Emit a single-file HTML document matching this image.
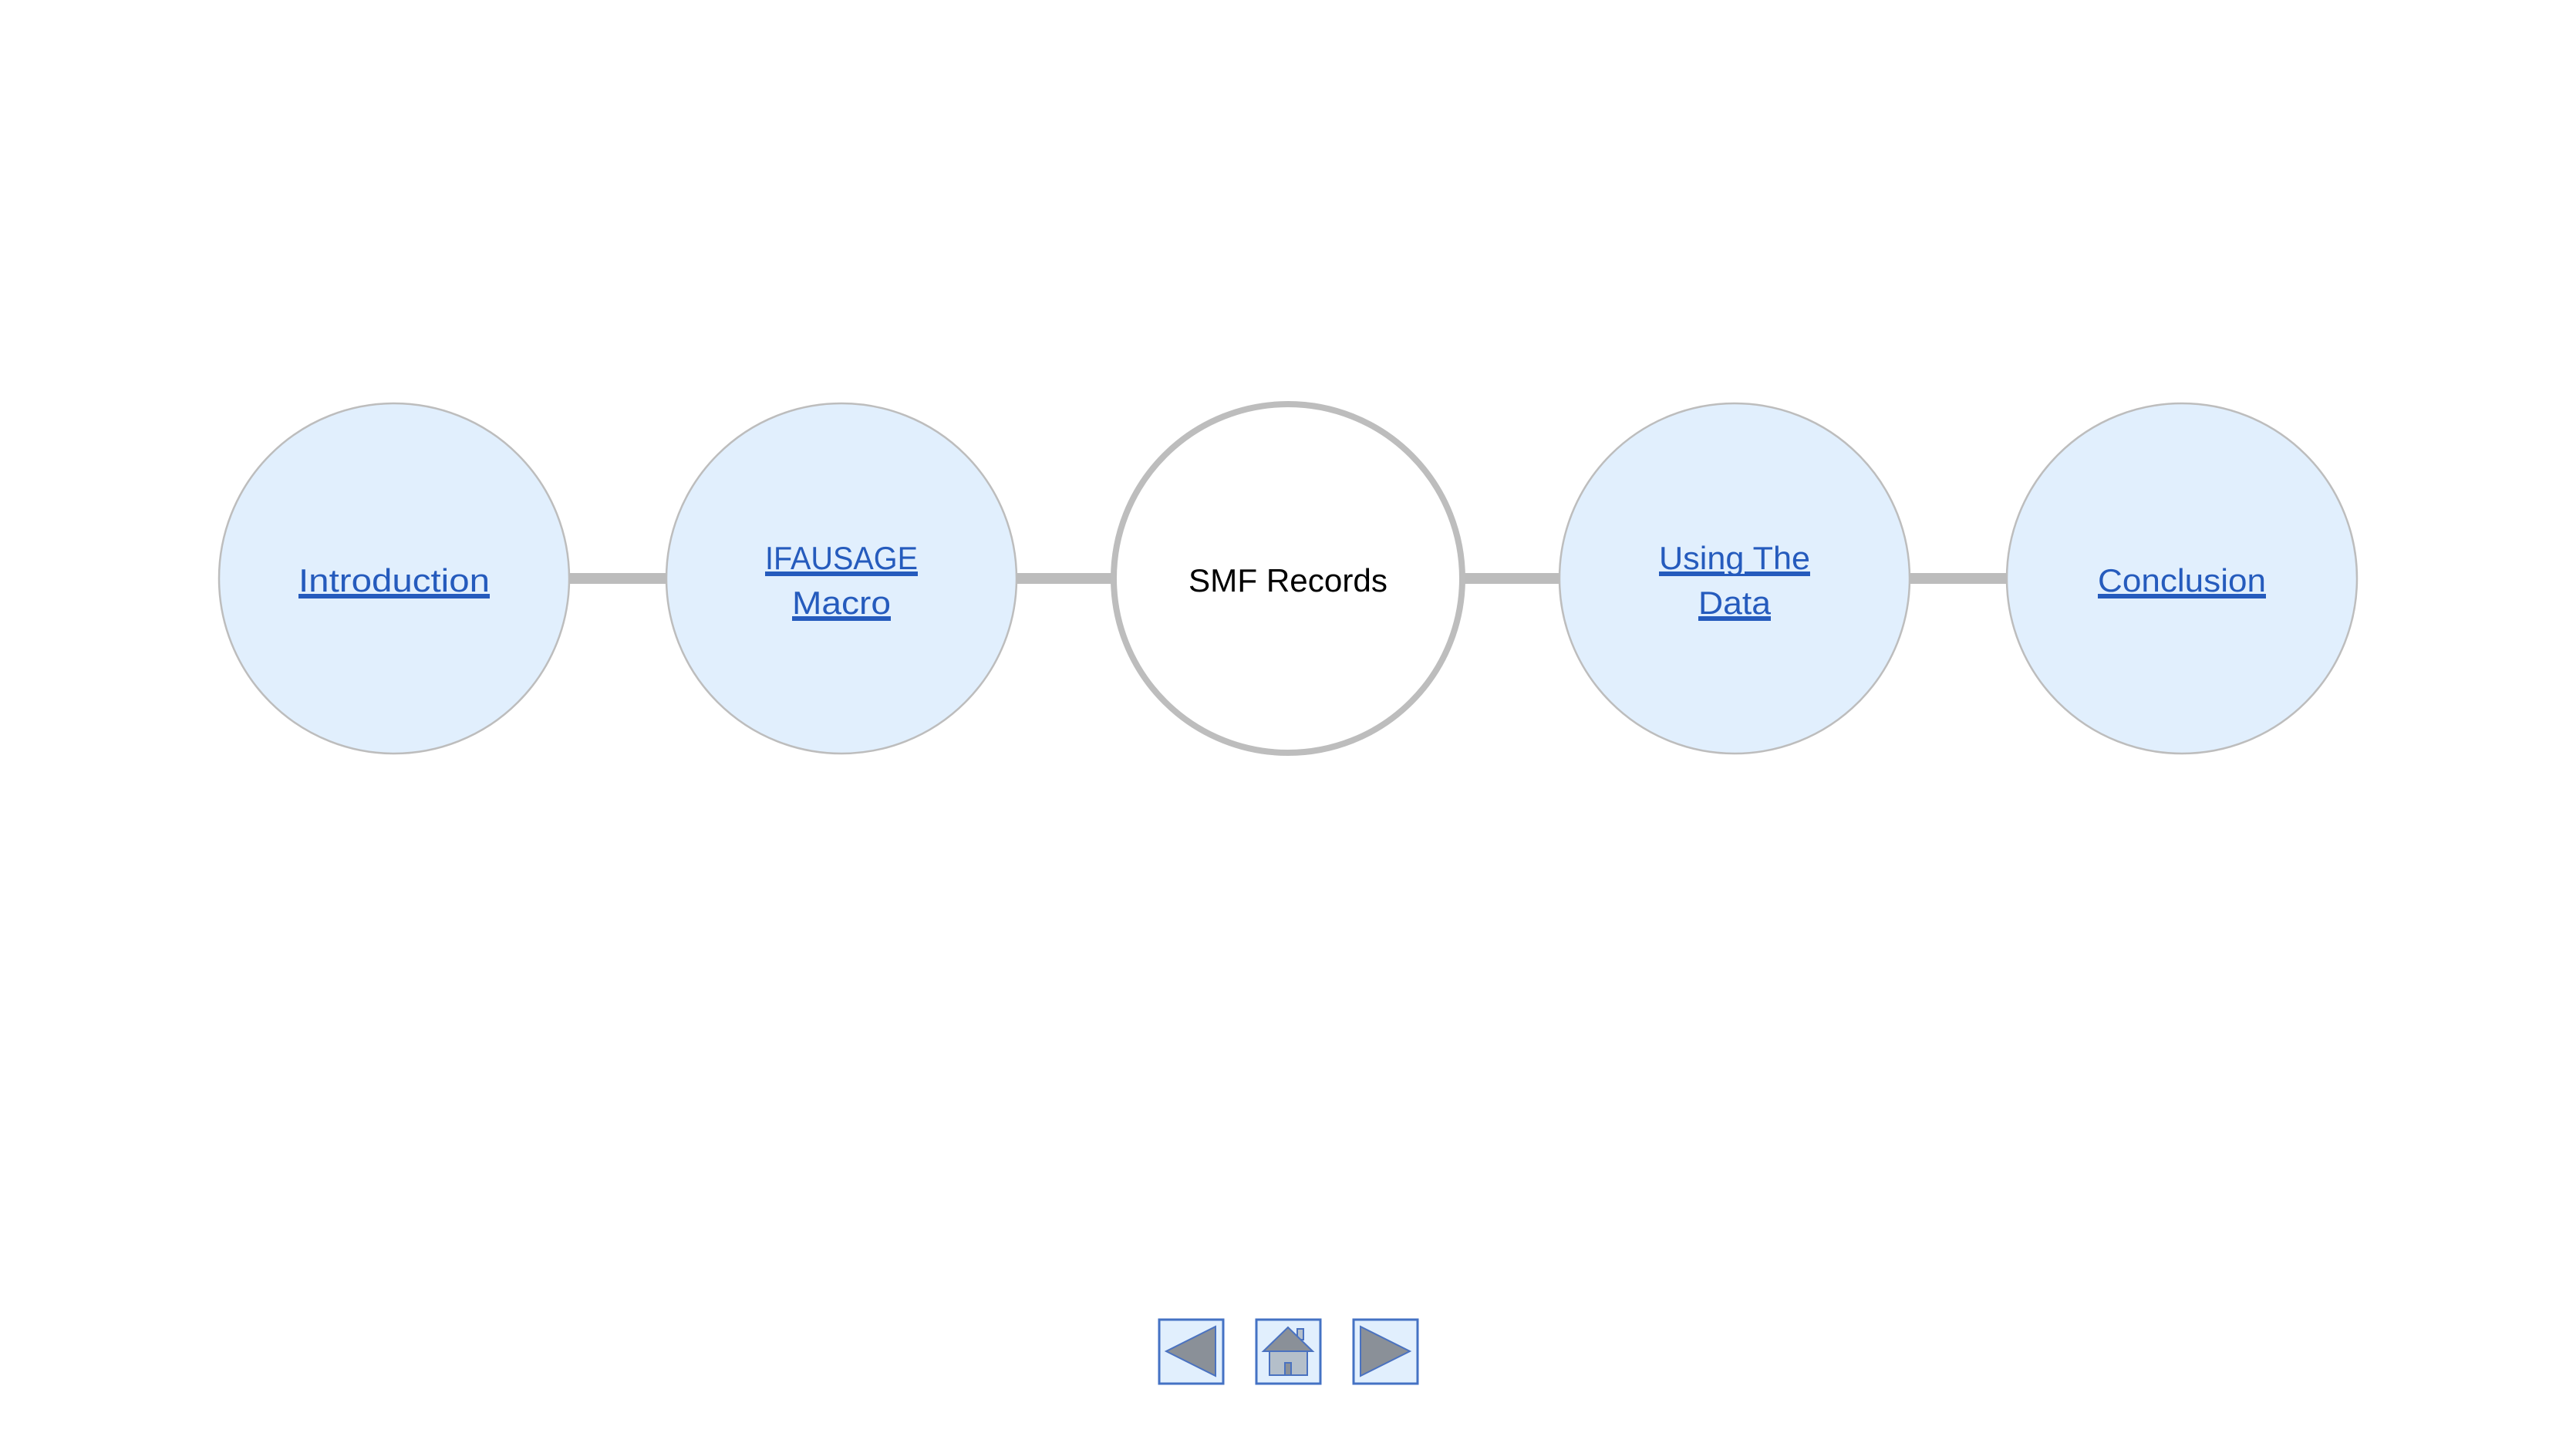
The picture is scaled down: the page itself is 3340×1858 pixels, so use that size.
<!DOCTYPE html>
<html><head><meta charset="utf-8"><style>
html,body{margin:0;padding:0;background:#fff;}
body{width:3340px;height:1858px;position:relative;overflow:hidden;}
svg{position:absolute;left:0;top:0;}
</style></head><body>
<svg width="3340" height="1858" viewBox="0 0 3340 1858" xmlns="http://www.w3.org/2000/svg">
<g fill="#bcbcbc">
<rect x="736" y="743" width="130" height="14"/>
<rect x="1316" y="743" width="130" height="14"/>
<rect x="1895" y="743" width="130" height="14"/>
<rect x="2474" y="743" width="130" height="14"/>
</g>
<g fill="#e1effd" stroke="#bdbdbd" stroke-width="2.5">
<circle cx="511" cy="750" r="227"/>
<circle cx="1091" cy="750" r="227"/>
<circle cx="2249" cy="750" r="227"/>
<circle cx="2829" cy="750" r="227"/>
</g>
<circle cx="1670" cy="750" r="226" fill="#fff" stroke="#bdbdbd" stroke-width="8"/>
<g font-family="Liberation Sans, sans-serif" font-size="42" fill="#255bbd" text-anchor="middle" text-decoration="underline">
<text x="511" y="767" textLength="248" lengthAdjust="spacingAndGlyphs">Introduction</text>
<text x="1091" y="738" textLength="198" lengthAdjust="spacingAndGlyphs">IFAUSAGE</text>
<text x="1091" y="796" textLength="128" lengthAdjust="spacingAndGlyphs">Macro</text>
<text x="2249" y="738" textLength="196" lengthAdjust="spacingAndGlyphs">Using The</text>
<text x="2249" y="796" textLength="94" lengthAdjust="spacingAndGlyphs">Data</text>
<text x="2829" y="767" textLength="218" lengthAdjust="spacingAndGlyphs">Conclusion</text>
</g>
<g fill="#255bbd">
<rect x="387" y="773" width="248" height="3"/>
<rect x="992" y="744" width="198" height="3"/>
<rect x="1027" y="802" width="128" height="3"/>
<rect x="2151" y="744" width="196" height="3"/>
<rect x="2202" y="802" width="94" height="3"/>
<rect x="2720" y="773" width="218" height="3"/>
</g>
<text x="1670" y="767" font-family="Liberation Sans, sans-serif" font-size="42" fill="#000" text-anchor="middle" textLength="258" lengthAdjust="spacingAndGlyphs">SMF Records</text>
<g stroke="#4472c4" stroke-width="3">
<rect x="1503" y="1711" width="83" height="83" fill="#e1effd"/>
<rect x="1629" y="1711" width="83" height="83" fill="#e1effd"/>
<rect x="1755" y="1711" width="83" height="83" fill="#e1effd"/>
</g>
<g stroke="#4a72c0" stroke-width="2">
<polygon points="1512,1752 1576,1720 1576,1784" fill="#8a9098"/>
<polygon points="1764,1720 1828,1752 1764,1784" fill="#8a9098"/>
<rect x="1682" y="1723" width="8" height="14" fill="#b4bfca"/>
<rect x="1646" y="1752" width="49" height="31" fill="#b4bfca"/>
<polygon points="1670,1721 1638,1752 1702,1752" fill="#8a9098"/>
<rect x="1666" y="1767" width="8" height="16" fill="#8a9098"/>
</g>
</svg>
</body></html>
